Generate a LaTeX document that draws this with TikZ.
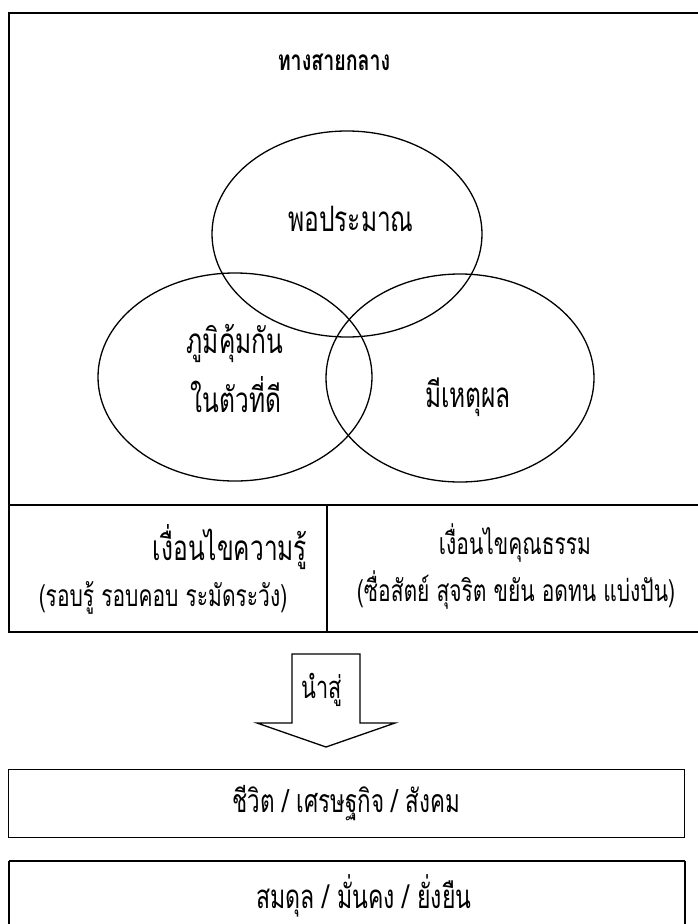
\documentclass[tikz,border=0pt]{standalone}
\usepackage{fontspec}
\newfontfamily\thai[Script=Thai,FakeStretch=0.7]{Loma}
\newcommand{\thsz}[1]{\thai\fontsize{#1}{#1}\selectfont}
\begin{document}
\begin{tikzpicture}[x=1pt,y=-1pt,
  frame/.style={draw,line width=1.8pt},
  ring/.style={draw,line width=1.3pt},
  txt/.style={inner sep=0pt},
  band/.style={frame,minimum width=676pt,inner sep=0pt}]
\useasboundingbox (0,0) rectangle (697,924);
% outer frame
\draw[frame] (9,13) rectangle (700,632);
\draw[frame] (9,505) -- (700,505);
\draw[frame] (327,505) -- (327,632);
\node[txt,font=\thsz{28}\bfseries] (title) at (334,62) {ทางสายกลาง};
% venn
\draw[ring] (347,234) ellipse [x radius=135, y radius=103];
\draw[ring] (235,377) ellipse [x radius=137, y radius=104];
\draw[ring] (460,378) ellipse [x radius=134, y radius=104];
\node[txt,font=\thsz{35}] (pp) at (351,219) {พอประมาณ};
\node[txt,font=\thsz{35}] (pk1) at (235,343) {ภูมิคุ้มกัน};
\node[txt,font=\thsz{35}] (pk2) at (236,395) {ในตัวที่ดี};
\node[txt,font=\thsz{35}] (mh) at (468,397) {มีเหตุผล};
% conditions
\node[txt,font=\thsz{35}] (k1) at (230,547) {เงื่อนไขความรู้};
\node[txt,font=\thsz{30}] (k2) at (163,598) {(รอบรู้ รอบคอบ ระมัดระวัง)};
\node[txt,font=\thsz{30}] (m1) at (515,543) {เงื่อนไขคุณธรรม};
\node[txt,font=\thsz{30}] (m2) at (516,590) {(ซื่อสัตย์ สุจริต ขยัน อดทน แบ่งปัน)};
% arrow
\draw[ring,line join=miter] (292,654) -- (360,654) -- (360,723) -- (395,723) -- (326,747) -- (257,723) -- (292,723) -- cycle;
\node[txt,font=\thsz{31}] (ns) at (322,690) {นำสู่};
% result boxes
\node[band,minimum height=68pt,txt,font=\thsz{32}] (life) at (346.5,803.5) {ชีวิต / เศรษฐกิจ / สังคม};
\draw[frame] (9,861) -- (685,861);
\draw[frame] (9,861) -- (9,930);
\draw[frame] (685,861) -- (685,930);
\node[txt,font=\thsz{33}] (bal) at (364,896) {สมดุล / มั่นคง / ยั่งยืน};
\end{tikzpicture}
\end{document}
